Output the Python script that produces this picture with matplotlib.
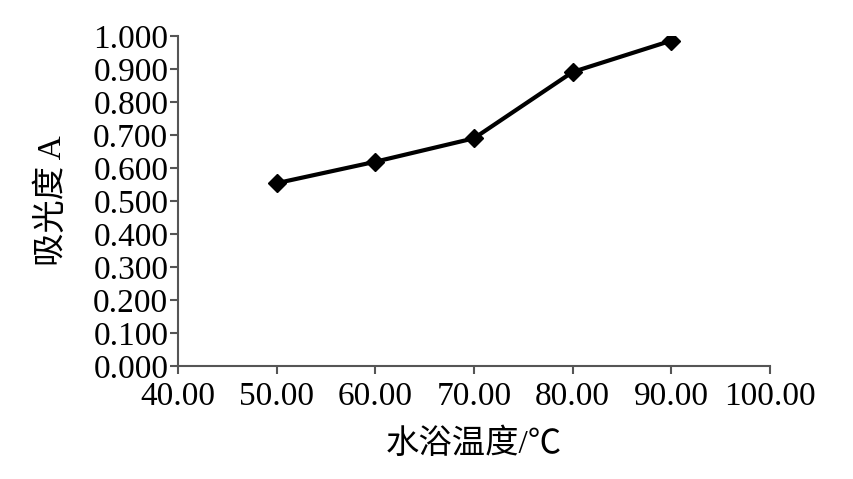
import matplotlib.pyplot as plt

# 水浴温度 vs 吸光度
temperature = [50, 60, 70, 80, 90]
absorbance = [0.554, 0.619, 0.690, 0.891, 0.986]

x_ticks = [40, 50, 60, 70, 80, 90, 100]
y_ticks = [0.0, 0.1, 0.2, 0.3, 0.4, 0.5, 0.6, 0.7, 0.8, 0.9, 1.0]

fonts = ['Liberation Serif', 'Noto Sans CJK SC']
plt.rcParams['font.family'] = fonts

fig = plt.figure(figsize=(8.54, 4.79), dpi=100)
ax = fig.add_axes([0.2084, 0.2359, 0.6932, 0.6889])

ax.plot(temperature, absorbance, color='black', linewidth=3,
        marker='D', markersize=9, markerfacecolor='black', markeredgecolor='black')

ax.set_xlim(40, 100)
ax.set_ylim(0, 1.0)
ax.set_xticks(x_ticks)
ax.set_yticks(y_ticks)
ax.set_xticklabels(["%.2f" % v for v in x_ticks])
ax.set_yticklabels(["%.3f" % v for v in y_ticks])

for side in ['top', 'right']:
    ax.spines[side].set_visible(False)
for side in ['left', 'bottom']:
    ax.spines[side].set_color('#555555')
    ax.spines[side].set_linewidth(1.5)

ax.tick_params(axis='both', colors='#555555', labelcolor='black', labelsize=24,
               width=1.5, length=6)
ax.tick_params(axis='x', pad=5)
ax.tick_params(axis='y', pad=1)

ax.set_xlabel("水浴温度/℃", fontsize=24, family=fonts, labelpad=12)
ax.set_ylabel("吸光度 A", fontsize=24, family=fonts, labelpad=18)

fig.savefig("out.png", dpi=100)
